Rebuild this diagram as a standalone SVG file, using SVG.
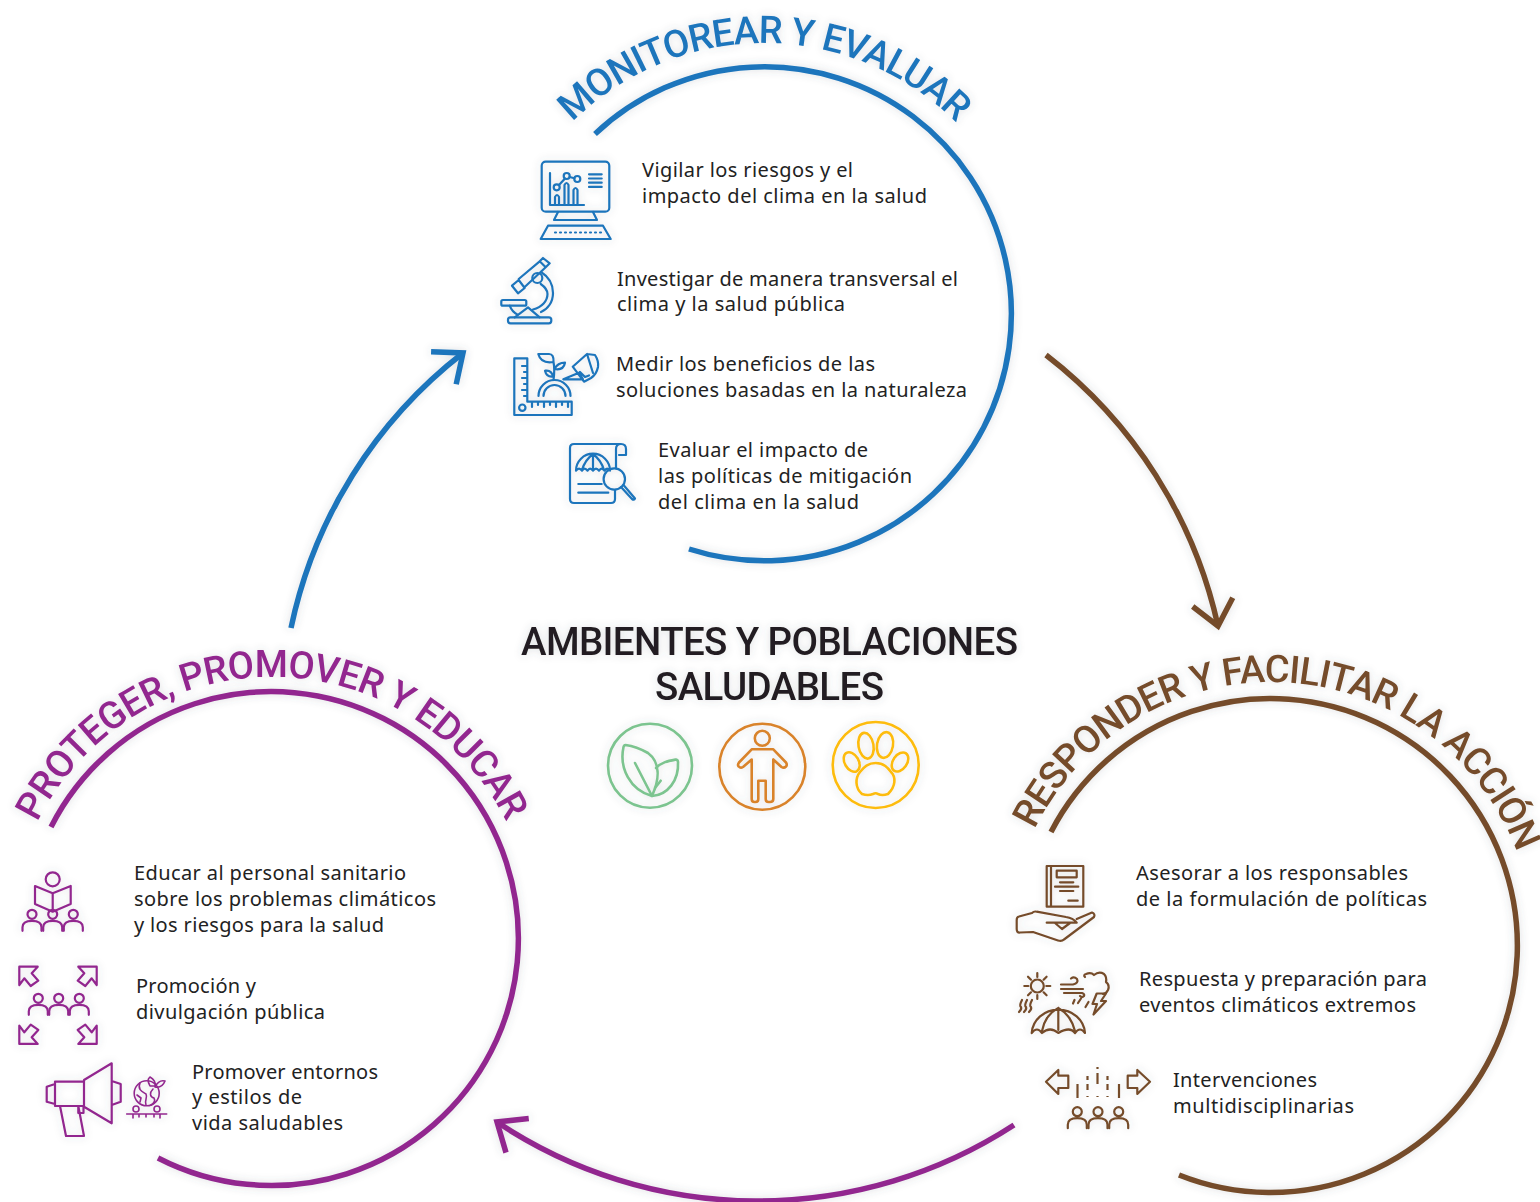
<svg xmlns="http://www.w3.org/2000/svg" width="1540" height="1202" viewBox="0 0 1540 1202">
<style>
.blue{stroke:#1c75bc;color:#1c75bc}.brown{stroke:#754c29;color:#754c29}.purple{stroke:#92278f;color:#92278f}
.ring{fill:none;stroke-width:5.5}
.conn{fill:none;stroke-width:5.5}
.ic{fill:none;stroke-width:2.2;stroke-linejoin:round;stroke-linecap:round}
.ic2{fill:none;stroke-width:2.6;stroke-linejoin:round;stroke-linecap:round}
.t{font-family:"Noto Sans","Open Sans",sans-serif;font-size:20px;fill:#222}
.arc{font-family:Roboto,"Liberation Sans",sans-serif;font-size:38px;font-weight:500;stroke:none}
.title{font-family:Roboto,"Liberation Sans",sans-serif;font-size:38.5px;font-weight:500;fill:#231f20;text-anchor:middle}
</style>
<defs>
<filter id="sh" x="-20%" y="-20%" width="140%" height="140%"><feGaussianBlur in="SourceAlpha" stdDeviation="4" result="b"/><feFlood flood-color="#4a5560" flood-opacity=".2"/><feComposite in2="b" operator="in"/><feMerge><feMergeNode/><feMergeNode in="SourceGraphic"/></feMerge></filter>
<marker id="mb" markerUnits="userSpaceOnUse" viewBox="-30 -25 35 50" refX="0" refY="0" markerWidth="35" markerHeight="50" orient="auto"><path d="M-24.5,-20.5L0,0L-24.5,20.5" fill="none" stroke="#1c75bc" stroke-width="5.5"/></marker>
<marker id="mr" markerUnits="userSpaceOnUse" viewBox="-30 -25 35 50" refX="0" refY="0" markerWidth="35" markerHeight="50" orient="auto"><path d="M-24.5,-20.5L0,0L-24.5,20.5" fill="none" stroke="#754c29" stroke-width="5.5"/></marker>
<marker id="mp" markerUnits="userSpaceOnUse" viewBox="-30 -25 35 50" refX="0" refY="0" markerWidth="35" markerHeight="50" orient="auto"><path d="M-24.5,-20.5L0,0L-24.5,20.5" fill="none" stroke="#92278f" stroke-width="5.5"/></marker>
<path id="pb" d="M571.7,122.7A272,272 0 0 1 956.3,122.7"/>
<path id="pp" d="M36.5,824.1A262,262 0 0 1 507.5,824.1"/>
<path id="pr" d="M1034.6,829.7A263,263 0 0 1 1525,877"/>
<g id="person"><circle cx="0" cy="0" r="4.5"/><path d="M-9.5,16.5V13C-9.5,9 -6,6.5 0,6.5C6,6.5 9.5,9 9.5,13V16.5"/></g>
<path id="spread" d="M19.3,966.7L37.7,966.7L31.7,973.3L38.3,980.7L30.7,986L24.3,978.3L19.3,985Z"/>
</defs>

<g id="connectors">
<path class="conn blue" filter="url(#sh)" d="M291,628A470,470 0 0 1 463,353" marker-end="url(#mb)"/>
<path class="conn brown" filter="url(#sh)" d="M1046,355A470,470 0 0 1 1218,626" marker-end="url(#mr)"/>
<path class="conn purple" filter="url(#sh)" d="M1014,1125A470,470 0 0 1 497,1122" marker-end="url(#mp)"/>
</g>

<g id="node-monitorear">
<path class="ring blue" filter="url(#sh)" d="M595,134A247,247 0 1 1 689,549"/>
<text class="arc" fill="#1c75bc" filter="url(#sh)" textLength="426"><textPath href="#pb" startOffset="1">MONITOREAR Y EVALUAR</textPath></text>
<g class="ic blue" filter="url(#sh)">
<rect x="541.7" y="161.7" width="67.6" height="50" rx="4"/>
<path d="M558,212L554,220H597L593,212M548,225.7H603L610.7,239H540.7Z"/>
<path d="M555,232.5H601" stroke-dasharray="1 4"/>
<path d="M550,173V205H584M555,205V197Q557,193 559,197V205M564.5,205V185Q566.5,181 568.5,185V205M573.5,205V190Q575.5,186 577.5,190V205"/>
<circle cx="556.7" cy="187.3" r="3"/><circle cx="566.7" cy="176" r="3"/><circle cx="577.3" cy="179" r="3"/>
<path d="M559,185L565,178.5M569.6,177L574.4,178.2M589,174.3H601.7M589,178.5H601.7M589,182.7H601.7M589,186.9H601.7"/>
</g>
<g class="ic blue" filter="url(#sh)">
<rect x="508" y="317.3" width="43.3" height="6" rx="2.5"/>
<rect x="501.3" y="300" width="25" height="5.7" rx="1.5"/>
<path d="M514.7,317.3L528,307.3L539.7,317.3M509.7,305.7Q512,312 518,315"/>
<path d="M541,272C549,277 553,285 553,293C553,302 548,309 541,312M540.7,284C545,287 547.5,290 547.5,294C547.5,301 542,307 533,309.5"/>
<path d="M512,285.7L518,293.3L524.7,288L518.7,280ZM518.7,279L539.7,261.3L545.7,267.3L524.7,287M539.7,261.3L543,258L549.7,263.3L545.7,267.3"/>
<circle cx="537.3" cy="278" r="5"/>
</g>
<g class="ic blue" filter="url(#sh)">
<path d="M514.3,358.3H527.3V401.7H571.7V415H514.3Z"/><circle cx="522.3" cy="407.7" r="3.2"/>
<path d="M527,366H522M527,372H524M527,378H522M527,384H524M527,390H522M527,396H524M532,402V407M538,402V405M544,402V407M550,402V405M556,402V407M562,402V405M568,402V407"/>
<path d="M538.5,396A16,16 0 0 1 570.5,396M543.5,396A11,11 0 0 1 565.5,396"/>
<path d="M553.5,380C554.5,373 554.5,367 553.5,362M538.3,354H549Q554,354 553.5,362Q541,364 538.3,354ZM554.5,369C557,364 560,362.7 565,362.7C564,368 560,370 554.5,369ZM553,376.5C549,377 546,375 545,370.7C549,370 552,372 553,376.5Z"/>
<path d="M563.3,379.3L579,372.7L583,379.3ZM572.7,366.7L587,354L595,355C597,358 598.5,363 598,367C597,372 594,376 591,378L584,381.7ZM587,354L593,373M580,372L585,377L589,375.5"/>
</g>
<g class="ic blue" filter="url(#sh)">
<path d="M616,468V449Q616,444 621,444H574Q570,444 570,448V499Q570,503 574,503H611Q615,503 615,499V490M616,444H621Q626,444 626,449V455H619"/>
<path d="M576,470.7A17,17 0 0 1 610,470.7Q607,466.5 604.5,470.7Q601.5,466.5 599,470.7Q596,466.5 593,470.7Q590,466.5 587.5,470.7Q584.5,466.5 582,470.7Q579,466.5 576,470.7ZM593,454V470M593,454Q585,460 582,470M593,454Q601,460 604,470"/>
<path d="M578.3,484H601.7M578.3,492.7H608.3"/>
<circle cx="614.3" cy="479" r="10.7"/><path d="M621,487L632,499Q634,500.5 635,498.5L623.5,485"/>
</g>
<text class="t" x="642" y="177" textLength="211">Vigilar los riesgos y el</text>
<text class="t" x="642" y="203" textLength="285">impacto del clima en la salud</text>
<text class="t" x="617" y="286" textLength="341">Investigar de manera transversal el</text>
<text class="t" x="617" y="311" textLength="228">clima y la salud pública</text>
<text class="t" x="616" y="371" textLength="259">Medir los beneficios de las</text>
<text class="t" x="616" y="397" textLength="351">soluciones basadas en la naturaleza</text>
<text class="t" x="658" y="457" textLength="210">Evaluar el impacto de</text>
<text class="t" x="658" y="483" textLength="254">las políticas de mitigación</text>
<text class="t" x="658" y="509" textLength="201">del clima en la salud</text>
</g>

<g id="node-responder">
<path class="ring brown" filter="url(#sh)" d="M1051,832A247,247 0 1 1 1179,1175"/>
<text class="arc" fill="#754c29" filter="url(#sh)" textLength="612"><textPath href="#pr" startOffset="0">RESPONDER Y FACILITAR LA ACCIÓN</textPath></text>
<g class="ic brown" filter="url(#sh)">
<path d="M1046.7,866H1083.3V906.7H1046.7ZM1051,866V906.7"/>
<rect x="1056.7" y="870.7" width="20" height="6.6"/>
<path d="M1060,882.3H1073.3M1055,886.7H1078.3M1060,891H1073.3M1068.3,900.7H1077.7"/>
<path d="M1046.7,922.7H1076.7Q1073,918 1066,917L1036.7,911.7Q1034,911 1032,913L1019,916.5Q1016.7,917 1016.7,920V929Q1016.7,933 1020,932.5L1033,932L1058,940.5Q1061.7,941.7 1064,939.5L1094,917Q1095.5,914 1092,912.5L1076.7,919M1055,923L1062,929L1070,923"/>
</g>
<g class="ic brown" filter="url(#sh)">
<circle cx="1037.3" cy="986" r="6.5"/>
<path d="M1037.3,973V977M1037.3,995V999M1024.3,986H1028.3M1046.3,986H1050.3M1028,976.7L1031,979.7M1043.6,992.3L1046.6,995.3M1028,995.3L1031,992.3M1043.6,979.7L1046.6,976.7"/>
<path d="M1022,1000Q1019,1006 1021,1007Q1022,1009 1019,1012M1027,1000Q1024,1006 1026,1007Q1027,1009 1024,1012M1032,1000Q1029,1006 1031,1007Q1032,1009 1029,1012"/>
<path d="M1031.7,1033A26.7,25 0 0 1 1085,1033Q1080,1026 1075,1033Q1070,1026 1058.3,1033Q1050,1026 1042,1033Q1037,1026 1031.7,1033ZM1058.3,1008V1030M1058.3,1008Q1045,1015 1042,1031M1058.3,1008Q1071,1015 1075,1031"/>
<path d="M1061,984.5H1073Q1079,983 1077,979Q1074,976 1071,978.5M1061,989H1083M1064,993H1082Q1085,994 1084,996Q1082,998 1080,996"/>
<path d="M1085,977Q1083,975 1086,974Q1091,972 1094,975Q1099,971 1104,974Q1107,977 1106,982Q1110,985 1108,990Q1106,994 1103,994"/>
<path d="M1096.7,993.5H1106L1101,1001H1106L1093.5,1014.5L1097,1004H1092.5Z"/>
<path d="M1074.5,1000L1073,1003.5M1081,998.5L1078,1003M1088.5,1002L1085.5,1007"/>
</g>
<g class="ic brown" filter="url(#sh)">
<path d="M1046,1081.7L1058.3,1070V1075.7H1068.3V1088H1058.3V1094Z"/>
<path d="M1150,1081.7L1137.3,1070V1075.7H1127.7V1088H1137.3V1094Z"/>
<path d="M1077.5,1084V1098M1087.5,1076V1080M1087.5,1084V1090M1097.5,1067V1069M1097.5,1073V1084M1107.5,1076V1080M1107.5,1084V1090M1119,1084V1098M1087.5,1096V1097M1097.5,1096V1097M1107.5,1096V1097" stroke-linecap="butt"/>
<use href="#person" x="1077.3" y="1111.7"/><use href="#person" x="1098" y="1111.7"/><use href="#person" x="1118.7" y="1111.7"/>
</g>
<text class="t" x="1136" y="880" textLength="272">Asesorar a los responsables</text>
<text class="t" x="1136" y="906" textLength="291">de la formulación de políticas</text>
<text class="t" x="1139" y="986" textLength="288">Respuesta y preparación para</text>
<text class="t" x="1139" y="1012" textLength="277">eventos climáticos extremos</text>
<text class="t" x="1173" y="1087" textLength="144">Intervenciones</text>
<text class="t" x="1173" y="1113" textLength="181">multidisciplinarias</text>
</g>

<g id="node-proteger">
<path class="ring purple" filter="url(#sh)" d="M51,827A247,247 0 1 1 158,1158"/>
<text class="arc" fill="#92278f" filter="url(#sh)" textLength="581"><textPath href="#pp" startOffset="2">PROTEGER, PROMOVER Y EDUCAR</textPath></text>
<g class="ic purple" filter="url(#sh)">
<circle cx="52.7" cy="879.3" r="7"/>
<path d="M35,886L52.7,893.3L70.7,886V904L52.7,911.7L35,904ZM52.7,893.3V911.7"/>
<use href="#person" x="32" y="914.3" /><use href="#person" x="52.7" y="914.3"/><use href="#person" x="73.3" y="914.3"/>
</g>
<g class="ic purple" filter="url(#sh)">
<use href="#spread"/>
<use href="#spread" transform="matrix(-1 0 0 1 116 0)"/>
<use href="#spread" transform="matrix(1 0 0 -1 0 2010.6)"/>
<use href="#spread" transform="matrix(-1 0 0 -1 116 2010.6)"/>
<use href="#person" x="38.3" y="998.3"/><use href="#person" x="58.7" y="998.3"/><use href="#person" x="79.3" y="998.3"/>
</g>
<g class="ic purple" filter="url(#sh)">
<path d="M84,1080L111.7,1063.3V1123.3L84,1106.7ZM55,1081.7H84V1106H55ZM55,1084L46.7,1086.7V1101.7L55,1104M111.7,1081L120.7,1084V1101.7L111.7,1105M60,1106L66,1136H84L78.3,1106M78.3,1106V1113H83.5V1106"/>
<g stroke-width="1.6">
<circle cx="146.7" cy="1093.3" r="12.5"/>
<path d="M140,1083C137,1090 143,1092 146,1094C148,1098 144,1100 146,1105M153,1089C149,1093 150,1097 154,1098C156,1101 153,1104 151,1105M137,1095L141,1098L140,1102"/>
<path d="M150,1086C147,1080 148,1079 150,1077C154,1079 156,1083 155,1086ZM155,1087C158,1081 161,1080 165,1081C163,1086 160,1088 155,1087Z"/>
<path d="M126.7,1114H166.7M133,1114V1118M139,1114V1117M154,1114V1117M160,1114V1118M146,1114V1117"/>
<circle cx="136" cy="1109" r="3"/><circle cx="157" cy="1109" r="3"/>
</g>
</g>
<text class="t" x="134" y="880" textLength="272">Educar al personal sanitario</text>
<text class="t" x="134" y="906" textLength="302">sobre los problemas climáticos</text>
<text class="t" x="134" y="932" textLength="250">y los riesgos para la salud</text>
<text class="t" x="136" y="993" textLength="120">Promoción y</text>
<text class="t" x="136" y="1019" textLength="189">divulgación pública</text>
<text class="t" x="192" y="1079" textLength="186">Promover entornos</text>
<text class="t" x="192" y="1104" textLength="110">y estilos de</text>
<text class="t" x="192" y="1130" textLength="151">vida saludables</text>
</g>

<g id="node-center">
<g filter="url(#sh)">
<text class="title" x="769.5" y="655" textLength="497">AMBIENTES Y POBLACIONES</text>
<text class="title" x="769.5" y="700" textLength="229">SALUDABLES</text>
</g>
<g class="ic2" stroke="#7cc48f" filter="url(#sh)">
<circle cx="650" cy="765.7" r="42"/>
<path d="M625.5,745Q624,745 623.5,747C619,768 630,790 652,796C660,778 660,762 648,753C641,749 633,746 625.5,745Z"/>
<path d="M656,768C662,762 668,761 676,759.5Q678,760 678,762C679,780 668,795 652,796M635,763L652,796M655,788L660.7,780.7"/>
</g>
<g class="ic2" stroke="#d9832a" filter="url(#sh)">
<circle cx="762.3" cy="766.7" r="43"/>
<circle cx="762.3" cy="738.3" r="7.5"/>
<path d="M751.7,749.3H773.3L786,762.5Q787.5,765 786,766.5Q784,768.5 781.5,767L773.3,759.5V799Q773.3,802 770,802H768.5Q765.7,802 765.7,799V780.7H758.3V799Q758.3,802 755.5,802H754.5Q751.7,802 751.7,799V759.5L743,767Q740.5,768.5 738.7,766.5Q737.2,765 739,762.5Z"/>
</g>
<g class="ic2" stroke="#fdbc11" filter="url(#sh)">
<circle cx="875.7" cy="765" r="43"/>
<ellipse cx="866" cy="745.7" rx="7.5" ry="13" transform="rotate(-10 866 745.7)"/>
<ellipse cx="885" cy="745" rx="8" ry="13" transform="rotate(10 885 745)"/>
<ellipse cx="851.7" cy="762" rx="7" ry="10.5" transform="rotate(-30 851.7 762)"/>
<ellipse cx="900" cy="762" rx="7" ry="10.5" transform="rotate(35 900 762)"/>
<path d="M875.7,763C884,763 888,768 891,772C896,777 896,786 888,794Q882,796 878,794Q875.7,792.5 873,794Q868,796 862,794C855,788 855,778 860,772C864,767 868,763 875.7,763Z"/>
</g>
</g>
</svg>
